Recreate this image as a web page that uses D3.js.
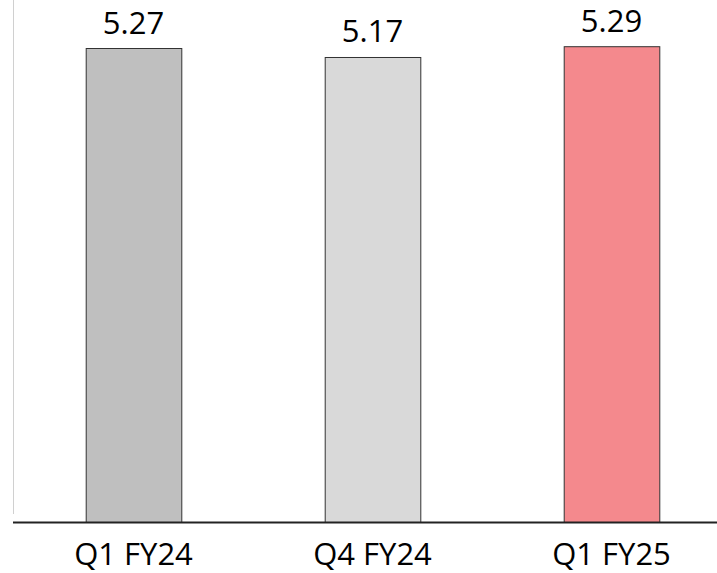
<!DOCTYPE html>
<html><head><meta charset="utf-8">
<script src="https://cdn.jsdelivr.net/npm/d3@7"></script>
<style>body{margin:0;background:#fff}svg{display:block}</style>
</head><body>
<script>
const categories = ["Q1 FY24", "Q4 FY24", "Q1 FY25"];
const values = [5.27, 5.17, 5.29];
const colors = ["#bfbfbf", "#d9d9d9", "#f4898d"];

const W = 717, H = 573;
const baseY = 522;
const svg = d3.select("body").append("svg").attr("width", W).attr("height", H);

const x = d3.scaleBand().domain(categories).range([14, 731]).padding(0);
const y = d3.scaleLinear().domain([0, 5.27]).range([baseY, 48]);
const barW = x.bandwidth() * 0.4;

svg.append("line").attr("x1", 13.5).attr("x2", 13.5).attr("y1", 0).attr("y2", 514)
  .attr("stroke", "#d0d0d0").attr("stroke-width", 1);

svg.selectAll("rect.bar").data(values).enter().append("rect")
  .attr("class", "bar")
  .attr("x", (d, i) => x(categories[i]) + x.bandwidth() / 2 - barW / 2 + 0.5)
  .attr("y", d => y(d) + 0.5)
  .attr("width", barW)
  .attr("height", d => baseY - y(d))
  .attr("fill", (d, i) => colors[i])
  .attr("stroke", "#333").attr("stroke-width", 1);

svg.selectAll("text.val").data(values).enter().append("text")
  .attr("class", "val")
  .attr("x", (d, i) => x(categories[i]) + x.bandwidth() / 2)
  .attr("y", d => y(d) - 14.5)
  .attr("text-anchor", "middle")
  .attr("font-family", "Open Sans, sans-serif").attr("font-size", 31)
  .attr("fill", "#000")
  .text(d => d.toFixed(2));

svg.append("line").attr("x1", 13).attr("x2", W).attr("y1", baseY + 0.5).attr("y2", baseY + 0.5)
  .attr("stroke", "#222").attr("stroke-width", 2);

const xAxis = svg.append("g").attr("transform", `translate(0,${baseY})`)
  .call(d3.axisBottom(x).tickSize(0).tickPadding(0));
xAxis.select(".domain").remove();
xAxis.selectAll("text").attr("dy", null).attr("y", 42.5)
  .attr("font-family", "Open Sans, sans-serif").attr("font-size", 31).attr("fill", "#000");
</script>
</body></html>
